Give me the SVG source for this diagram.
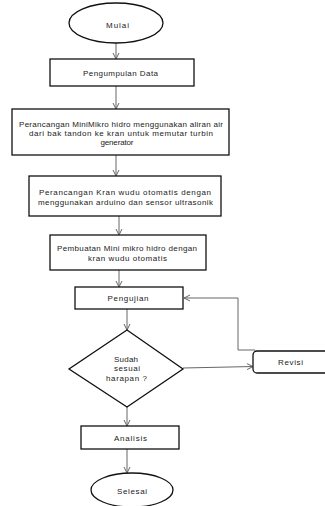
<svg xmlns="http://www.w3.org/2000/svg" width="325" height="506" viewBox="0 0 325 506">
<defs>
<style>
.n{fill:#fff;stroke:#111;stroke-width:1.3}
.t{font-family:"Liberation Sans",Arial,sans-serif;font-size:8px;fill:#222;text-anchor:middle}
.c{fill:none;stroke:#666;stroke-width:1}
</style>
<marker id="ah" markerWidth="8" markerHeight="8" refX="7" refY="4" orient="auto" markerUnits="userSpaceOnUse">
<path d="M1,1 L7,4 L1,7" fill="none" stroke="#666" stroke-width="1"/>
</marker>
</defs>
<rect width="325" height="506" fill="#fff"/>
<g id="connectors">
<path class="c" d="M116,43 V59" marker-end="url(#ah)"/>
<path class="c" d="M116,86 V109" marker-end="url(#ah)"/>
<path class="c" d="M116,155 V176" marker-end="url(#ah)"/>
<path class="c" d="M119,216 V235" marker-end="url(#ah)"/>
<path class="c" d="M119,270 V287" marker-end="url(#ah)"/>
<path class="c" d="M127,309 V330" marker-end="url(#ah)"/>
<path class="c" d="M183,368 L253,366.5" marker-end="url(#ah)"/>
<path class="c" d="M255,350 H238 V298 H184" marker-end="url(#ah)"/>
<path class="c" d="M127,407 V426" marker-end="url(#ah)"/>
<path class="c" d="M127,449 V473" marker-end="url(#ah)"/>
</g>
<g id="mulai">
<ellipse class="n" cx="116" cy="23" rx="47" ry="20"/>
<text class="t" x="117.5" y="27.5" textLength="23">Mulai</text>
</g>
<g id="pengumpulan">
<rect class="n" x="50" y="59" width="144" height="27"/>
<text class="t" x="120.5" y="75.5" textLength="75">Pengumpulan Data</text>
</g>
<g id="perancangan-mikrohidro">
<rect class="n" x="12" y="109" width="217" height="46"/>
<text class="t" x="121" y="126.8" textLength="204">Perancangan MiniMikro hidro menggunakan aliran air</text>
<text class="t" x="121" y="135.8" textLength="184">dari bak tandon ke kran untuk memutar turbin</text>
<text class="t" x="117" y="144.8" textLength="33">generator</text>
</g>
<g id="perancangan-kran">
<rect class="n" x="29" y="176" width="192" height="40"/>
<text class="t" x="125" y="194.8" textLength="172">Perancangan Kran wudu otomatis dengan</text>
<text class="t" x="125.5" y="204.8" textLength="175">menggunakan arduino dan sensor ultrasonik</text>
</g>
<g id="pembuatan">
<rect class="n" x="50" y="235" width="156" height="35"/>
<text class="t" x="127" y="250.8" textLength="140">Pembuatan Mini mikro hidro dengan</text>
<text class="t" x="127.5" y="260.8" textLength="79">kran wudu otomatis</text>
</g>
<g id="pengujian">
<rect class="n" x="75" y="287" width="108" height="22"/>
<text class="t" x="128" y="300.8" textLength="41">Pengujian</text>
</g>
<g id="keputusan">
<polygon class="n" points="127,330 183,369 127,407 69,369"/>
<text class="t" x="126" y="361.8" textLength="24">Sudah</text>
<text class="t" x="127" y="371.3" textLength="26">sesuai</text>
<text class="t" x="126.5" y="380.8" textLength="41">harapan ?</text>
</g>
<g id="revisi">
<rect class="n" x="253" y="351" width="80" height="22" rx="4"/>
<text class="t" x="290.5" y="365.3" textLength="25">Revisi</text>
</g>
<g id="analisis">
<rect class="n" x="81" y="426" width="98" height="23"/>
<text class="t" x="130.5" y="441.3" textLength="33">Analisis</text>
</g>
<g id="selesai">
<ellipse class="n" cx="132" cy="490" rx="41" ry="17"/>
<text class="t" x="132" y="494.3" textLength="30">Selesai</text>
</g>
</svg>
